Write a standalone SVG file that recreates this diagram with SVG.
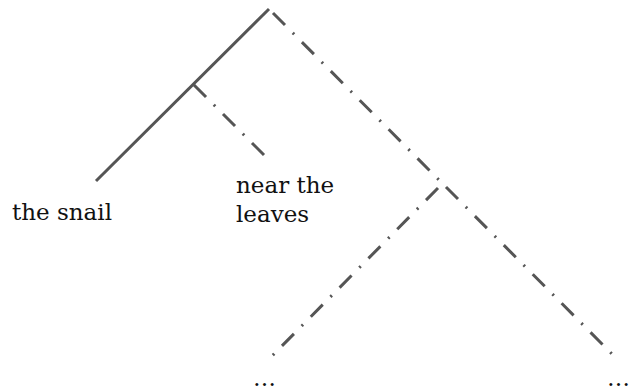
<svg xmlns="http://www.w3.org/2000/svg" width="629" height="389" viewBox="0 0 629 389">
<style>
.e{stroke:#555;stroke-width:3;fill:none}
.d{stroke-dasharray:17 11 2 11}
text{font-family:"DejaVu Serif","Liberation Serif",serif;font-size:23px;fill:#111}
</style>
<rect width="629" height="389" fill="#fff"/>
<g id="connectors">
<line class="e" x1="269" y1="9" x2="96" y2="181"/>
<line class="e d" x1="194" y1="85" x2="267" y2="158"/>
<line class="e d" x1="273" y1="13" x2="440" y2="181"/>
<line class="e d" x1="446" y1="187" x2="614" y2="356"/>
<line class="e d" x1="438" y1="188" x2="272" y2="356"/>
</g>
<g id="n1"><text x="12" y="220">the snail</text></g>
<g id="n2"><text x="236" y="193">near the</text><text x="236" y="222">leaves</text></g>
<g id="n3"><text x="253" y="386">…</text></g>
<g id="n4"><text x="607" y="386">…</text></g>
</svg>
